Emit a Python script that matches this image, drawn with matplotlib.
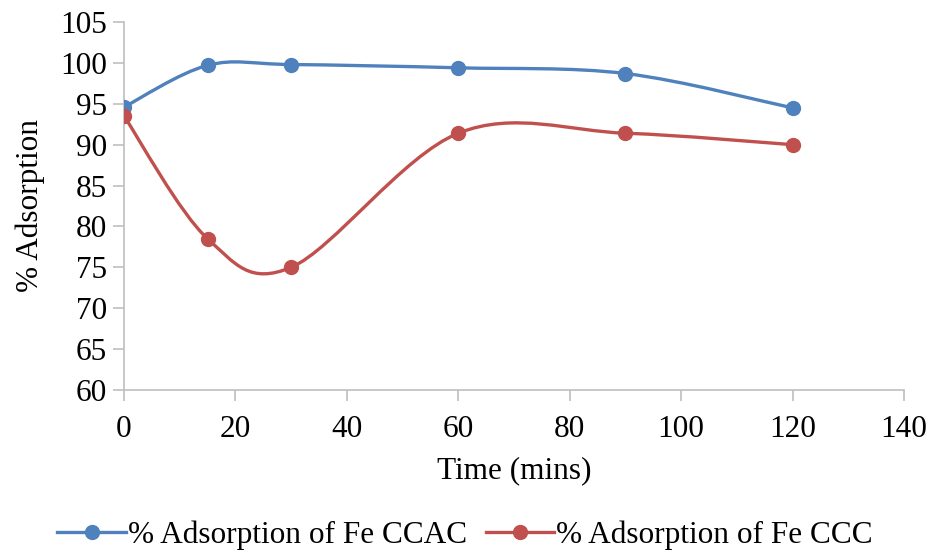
import numpy as np
import matplotlib
matplotlib.use("Agg")
import matplotlib.pyplot as plt
from matplotlib.path import Path
from matplotlib.patches import PathPatch
from matplotlib.lines import Line2D

time = [0, 15, 30, 60, 90, 120]
ccac = [94.6, 99.7, 99.8, 99.4, 98.7, 94.5]
ccc = [93.5, 78.5, 75.0, 91.4, 91.4, 90.0]
labels = ["% Adsorption of Fe CCAC", "% Adsorption of Fe CCC"]
colors = ["#4f81bd", "#c0504d"]

plt.rcParams['font.family'] = ['Liberation Serif', 'DejaVu Serif']

fig = plt.figure(figsize=(9.3, 5.55), dpi=100)
ax = fig.add_axes([124/930, 1-390/555, (904-124)/930, (390-22)/555])


def smooth_path(x, y):
    x = np.asarray(x, float); y = np.asarray(y, float)
    n = len(x)
    verts = [(x[0], y[0])]
    codes = [Path.MOVETO]
    for i in range(n - 1):
        p0 = np.array([x[max(i-1, 0)], y[max(i-1, 0)]])
        p1 = np.array([x[i], y[i]])
        p2 = np.array([x[i+1], y[i+1]])
        p3 = np.array([x[min(i+2, n-1)], y[min(i+2, n-1)]])
        c1 = p1 + (p2 - p0) / 6.0
        c2 = p2 - (p3 - p1) / 6.0
        verts += [tuple(c1), tuple(c2), tuple(p2)]
        codes += [Path.CURVE4] * 3
    return Path(verts, codes)

handles = []
for ys, c, lab in zip([ccac, ccc], colors, labels):
    patch = PathPatch(smooth_path(time, ys), facecolor='none', edgecolor=c,
                      lw=2.4, capstyle='round', joinstyle='round', zorder=2)
    ax.add_patch(patch)
    ax.plot(time, ys, linestyle='none', marker='o', markersize=10, color=c, zorder=3)
    handles.append(Line2D([], [], color=c, lw=2.4, marker='o', markersize=10, label=lab))

ax.set_xlim(0, 140)
ax.set_ylim(60, 105)
ax.set_xticks(range(0, 141, 20))
ax.set_yticks(range(60, 106, 5))
for s in ['top', 'right']:
    ax.spines[s].set_visible(False)
for s in ['left', 'bottom']:
    ax.spines[s].set_color('#bfbfbf')
    ax.spines[s].set_linewidth(1.2)
ax.tick_params(axis='both', direction='out', length=8, width=1.2, color='#bfbfbf',
               labelsize=22.5, labelcolor='black')
ax.tick_params(axis='x', pad=10)
ax.tick_params(axis='y', pad=4)
ax.set_xlabel('Time (mins)', fontsize=22.5, labelpad=9)
ax.set_ylabel('% Adsorption', fontsize=22.5, labelpad=11)

fig.legend(handles=handles, loc='lower center', bbox_to_anchor=(0.5, -0.042), ncol=2,
           frameon=False, fontsize=22.5, handlelength=2.2, handletextpad=0.05,
           columnspacing=0.6)

fig.savefig('out.png', dpi=100)
